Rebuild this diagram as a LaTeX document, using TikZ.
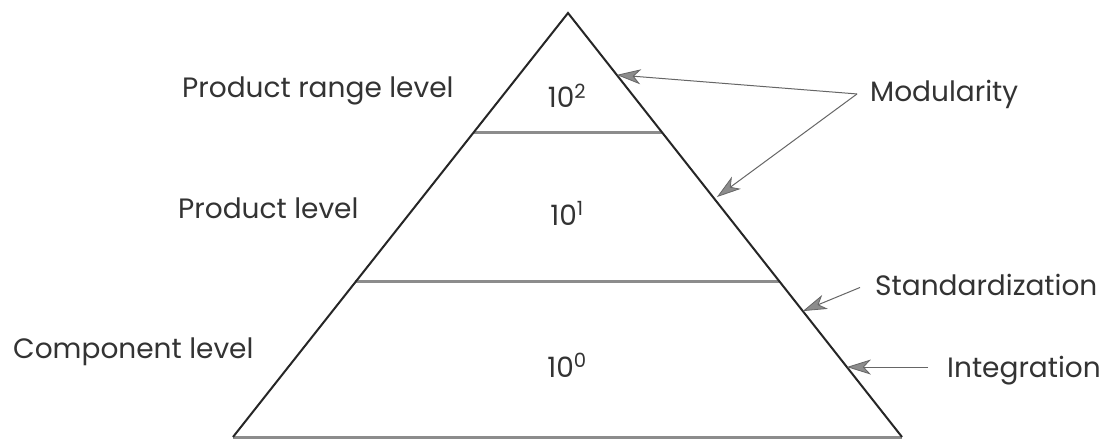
\documentclass[tikz,border=0pt]{standalone}
\usepackage{fontspec}
\setmainfont{Poppins}
\usetikzlibrary{arrows.meta,calc}
\begin{document}
\begin{tikzpicture}[x=1pt,y=-1pt,
  lbl/.style={font=\fontsize{28}{32}\selectfont, text=black!80, inner sep=0pt},
  num/.style={lbl, anchor=base},
  side/.style={line width=2pt, draw=black!85, line join=miter},
  tier/.style={line width=3pt, draw=black!45},
  ptr/.style={draw=black!60, line width=1pt, -{Stealth[length=24pt,width=15pt,fill=black!45,inset=7pt,line width=0.8pt]}}]
\useasboundingbox (0,0) rectangle (1102,441);
\fill[white] (0,0) rectangle (1102,441);
\coordinate (A) at (568,13);
\coordinate (BL) at (233,437);
\coordinate (BR) at (902,437);
% tier lines
\draw[tier] ($(A)!0.2807!(BL)$) -- ($(A)!0.2807!(BR)$);
\draw[tier] ($(A)!0.6344!(BL)$) -- ($(A)!0.6344!(BR)$);
\draw[tier] (BL) -- (BR);
\draw[side] (BL) -- (A) -- (BR);
% level labels
\node[lbl, anchor=base west] (prl) at (182,98) {Product range level};
\node[lbl, anchor=base west] (pl) at (178,218) {Product level};
\node[lbl, anchor=base west] (cl) at (13,358) {Component level};
% numbers
\node[num] (n2) at (567,108) {10\textsuperscript{2}};
\node[num] (n1) at (567,225) {10\textsuperscript{1}};
\node[num] (n0) at (567,377) {10\textsuperscript{0}};
% right labels
\node[lbl, anchor=base west] (mod) at (870,102) {Modularity};
\node[lbl, anchor=base west] (std) at (875,295) {Standardization};
\node[lbl, anchor=base west] (int) at (947,377) {Integration};
% arrow tips on the edge
\coordinate (t1) at ($(A)!0.146!(BR)$);
\coordinate (t2) at ($(A)!0.434!(BR)+(4,0)$);
\coordinate (t3) at ($(A)!0.703!(BR)$);
\coordinate (t4) at ($(A)!0.835!(BR)$);
\coordinate (m0) at ([xshift=-13pt,yshift=1pt]mod.west);
\coordinate (s0) at ([xshift=-15pt,yshift=-3pt]std.west);
\coordinate (i0) at ($(int.west |- t4)+(-19,0)$);
\draw[ptr] (m0) -- (t1);
\draw[ptr] (m0) -- (t2);
\draw[ptr] (s0) -- (t3);
\draw[ptr] (i0) -- (t4);
\end{tikzpicture}
\end{document}
